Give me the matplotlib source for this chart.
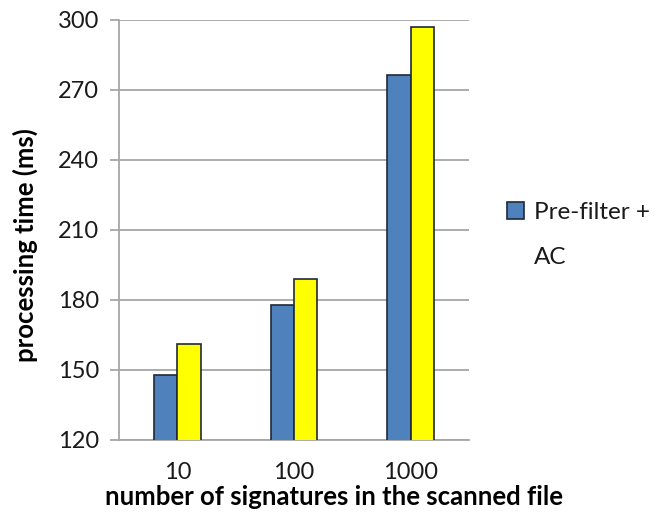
import matplotlib
matplotlib.use("Agg")
import matplotlib.pyplot as plt
import numpy as np

categories = ["10", "100", "1000"]
prefilter_ac = [148, 178, 276.5]
second_series = [161, 189, 297]
y_ticks = [120, 150, 180, 210, 240, 270, 300]

plt.rcParams['font.family'] = ['Lato', 'DejaVu Sans']

fig = plt.figure(figsize=(6.62, 5.14), dpi=100)
ax = fig.add_axes([119/662, 1 - 440/514, 350/662, 420/514])

x = np.arange(len(categories))
w = 0.2
b1 = ax.bar(x - w/2, prefilter_ac, w, color="#4F81BD", edgecolor="#1F2A38",
            linewidth=1.2, zorder=3)
b2 = ax.bar(x + w/2, second_series, w, color="#FFFF00", edgecolor="#1F2A38",
            linewidth=1.2, zorder=3)

ax.set_xlim(-0.5, 2.5)
ax.set_ylim(120, 300)
ax.set_yticks(y_ticks)
ax.set_xticks(x)
ax.set_xticklabels(categories)
ax.yaxis.grid(True, color="#A6A6A6", linewidth=1.3, zorder=0)
ax.set_axisbelow(True)

for s in ["top", "right"]:
    ax.spines[s].set_visible(False)
for s in ["left", "bottom"]:
    ax.spines[s].set_color("#A6A6A6")
    ax.spines[s].set_linewidth(1.3)

ax.tick_params(axis="y", length=6.5, width=1.3, color="#A6A6A6", labelsize=17, pad=8,
               labelcolor="#1a1a1a")
ax.tick_params(axis="x", length=0, labelsize=17, pad=16, labelcolor="#1a1a1a")

ax.set_ylabel("processing time (ms)", fontsize=18.5, fontweight="bold")
ax.yaxis.set_label_coords(-0.232, 0.464)
ax.set_xlabel("number of signatures in the scanned file", fontsize=18.5,
              fontweight="bold")
ax.xaxis.set_label_coords(0.614, -0.108)

# legend: only the first series is listed; its label wraps onto a second line
fs_leg = 17.5
leg = fig.legend(handles=[b1], labels=["Pre-filter +"], loc="upper left",
                 bbox_to_anchor=(507/662, 1 - 202/514), frameon=False, fontsize=fs_leg,
                 handlelength=0.68, handleheight=0.68, handletextpad=0.42,
                 borderpad=0, borderaxespad=0)
fig.canvas.draw()
tb = leg.get_texts()[0].get_window_extent()
fig.text(tb.x0 / fig.bbox.width, 1 - 258/514, "AC", fontsize=fs_leg,
         va="center", ha="left", color="#1a1a1a")
leg.get_texts()[0].set_color("#1a1a1a")

fig.savefig("out.png", dpi=100)
